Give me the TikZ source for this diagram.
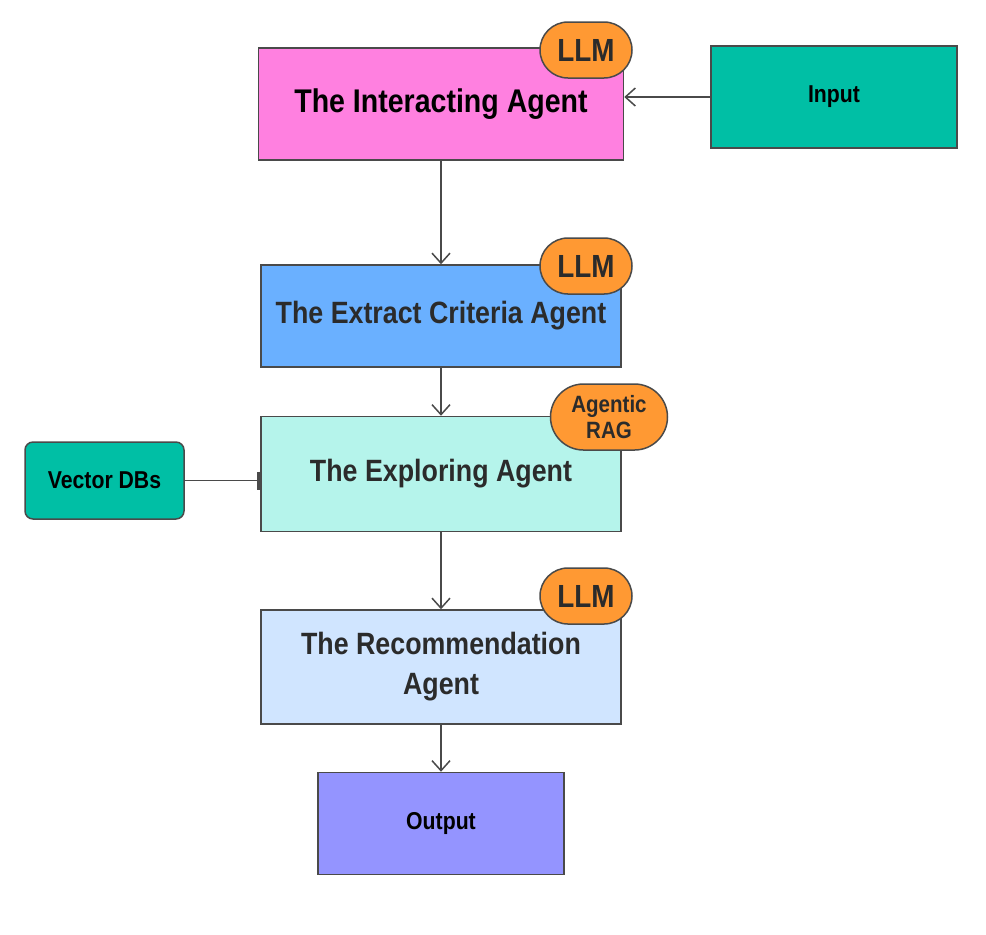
\documentclass[tikz,border=0pt]{standalone}
\usepackage{fontspec}
\setmainfont[FakeStretch=0.87]{Liberation Sans}
\usetikzlibrary{shapes.misc,arrows.meta,positioning}
\definecolor{agentpink}{HTML}{FF80E0}
\definecolor{agentblue}{HTML}{6AB0FF}
\definecolor{agentmint}{HTML}{B5F4EB}
\definecolor{agentpale}{HTML}{D0E5FF}
\definecolor{outpurple}{HTML}{9494FF}
\definecolor{ioteal}{HTML}{00BFA5}
\definecolor{badgeorange}{HTML}{FF9933}
\definecolor{edgegrey}{HTML}{4A4A4A}
\definecolor{txtgrey}{HTML}{2B2B2B}
\tikzset{
agent/.style = {draw=edgegrey, line width=0.75pt, rectangle, text=txtgrey, align=center,
  font=\bfseries\fontsize{15.4}{20}\selectfont, minimum width=180pt, minimum height=51pt, inner sep=0pt},
io/.style = {draw=edgegrey, line width=0.75pt, rectangle, fill=ioteal, text=black,
  font=\bfseries\fontsize{12.2}{14}\selectfont, minimum width=123pt, minimum height=51pt, inner sep=0pt},
badge/.style = {draw=edgegrey, line width=0.75pt, rounded rectangle, fill=badgeorange, text=txtgrey, align=center,
  font=\bfseries\fontsize{16}{18}\selectfont, minimum width=46pt, minimum height=28pt, inner sep=0pt},
link/.style = {draw=edgegrey, line width=0.75pt}
}
\begin{document}
\begin{tikzpicture}[x=0.5pt, y=-0.5pt, >={Straight Barb[length=5pt,width=9pt]}]
  \useasboundingbox (0,0) rectangle (986,934);
  \node [agent, fill=agentpink, text=black, minimum width=182.5pt, minimum height=56pt,
         font=\bfseries\fontsize{16.4}{20}\selectfont] (inter) at (441,104) {The Interacting Agent};
  \node [agent, fill=agentblue]                        (extract) at (441,316) {The Extract Criteria Agent};
  \node [agent, fill=agentmint, minimum height=57.5pt] (explore) at (441,474) {The Exploring Agent};
  \node [agent, fill=agentpale, minimum height=57pt]   (recomm)  at (441,667) {The Recommendation\\Agent};
  \node [io]                                           (input)   at (834,97) {Input};
  \node [io, fill=outpurple]                           (output)  at (441,823.5) {Output};
  \node [io, rounded corners=4pt, minimum width=79.5pt, minimum height=38.5pt] (vdb) at (104.5,480.5) {Vector DBs};

  \node [badge] (llma) at (586,50)  {LLM};
  \node [badge] (llmb) at (586,266) {LLM};
  \node [badge, minimum width=58.5pt, minimum height=33pt, font=\bfseries\fontsize{11.8}{13}\selectfont] (rag) at (609,417) {Agentic\\RAG};
  \node [badge] (llmc) at (586,596) {LLM};

  \draw [link, ->] (input.west) -- (input.west -| inter.east);
  \draw [link, ->] (inter) -- (extract);
  \draw [link, ->] (extract) -- (explore);
  \draw [link, ->] (explore) -- (recomm);
  \draw [link, ->] (recomm) -- (output);
  \draw [link, -{Bar[width=9pt,line width=1.6pt]}] (vdb.east) -- (vdb.east -| explore.west);
\end{tikzpicture}
\end{document}
